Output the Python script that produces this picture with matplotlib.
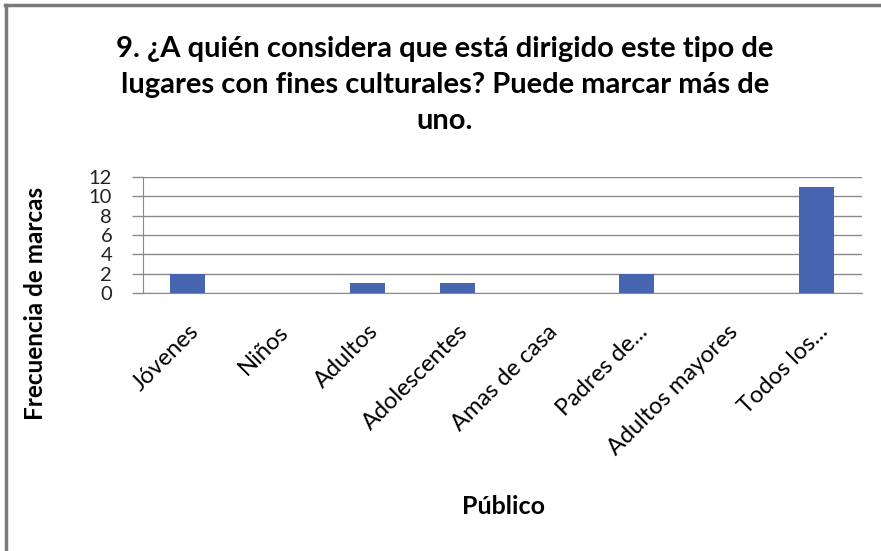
import matplotlib.pyplot as plt
from matplotlib.lines import Line2D

# Respuestas por tipo de público
categorias = ['Jóvenes', 'Niños', 'Adultos', 'Adolescentes', 'Amas de casa',
              'Padres de...', 'Adultos mayores', 'Todos los...']
frecuencia = [2, 0, 1, 1, 0, 2, 0, 11]
ticks_y = [0, 2, 4, 6, 8, 10, 12]

titulo = ('9. ¿A quién considera que está dirigido este tipo de\n'
          'lugares con fines culturales? Puede marcar más de\n'
          'uno.')

plt.rcParams['font.family'] = ['Lato', 'DejaVu Sans']

fig = plt.figure(figsize=(8.81, 5.51), dpi=100)
ax = fig.add_axes([0.162, 0.468, 0.816, 0.211])

x = range(len(categorias))
ax.bar(x, frecuencia, width=0.39, color='#4764b0', zorder=3)

ax.set_xlim(-0.5, len(categorias) - 0.5)
ax.set_ylim(0, 12)
ax.set_yticks(ticks_y)
ax.set_yticklabels([str(t) for t in ticks_y], fontsize=14.5, color='#222222')
ax.yaxis.grid(True, color='#8a8a8a', linewidth=1, zorder=0)
ax.set_xticks(list(x))
ax.set_xticklabels(categorias, rotation=45, ha='right', rotation_mode='anchor',
                   fontsize=17)
ax.tick_params(axis='x', length=0, pad=20)
ax.tick_params(axis='y', length=8, width=1, color='#8a8a8a', pad=14)

for s in ['top', 'right']:
    ax.spines[s].set_visible(False)
for s in ['left', 'bottom']:
    ax.spines[s].set_color('#8a8a8a')

fig.text(0.505, 0.935, titulo, ha='center', va='top', fontsize=21,
         fontweight='bold', linespacing=1.47)
fig.text(0.040, 0.45, 'Frecuencia de marcas', rotation=90, ha='center',
         va='center', fontsize=17.5, fontweight='bold')
fig.text(0.571, 0.08, 'Público', ha='center', va='center', fontsize=18,
         fontweight='bold')

# marco gris arriba e izquierda
fig.add_artist(Line2D([0.006, 1.0], [0.991, 0.991], color='#7a7a7a', linewidth=2.5))
fig.add_artist(Line2D([0.007, 0.007], [0.0, 0.991], color='#7a7a7a', linewidth=2.5))

fig.savefig('out.png', dpi=100)
